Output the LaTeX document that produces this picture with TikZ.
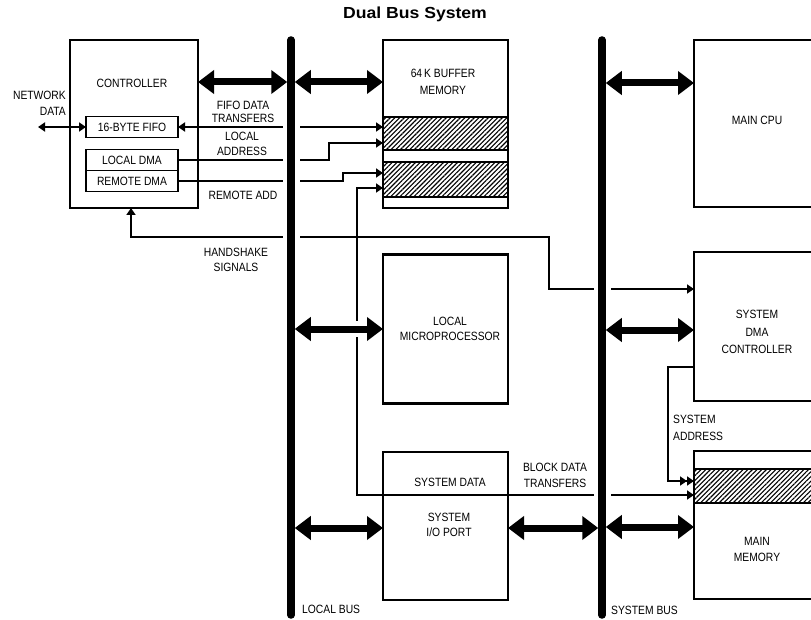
\documentclass[tikz,border=0pt]{standalone}
\usepackage{fontspec}
\setmainfont{Liberation Sans}[FakeStretch=0.86]
\newfontfamily\titlefont{Liberation Sans}[FakeStretch=1.1]
\usepackage{tikz}
\usetikzlibrary{arrows.meta,positioning,calc,backgrounds,patterns.meta}
\tikzset{
  blk/.style    ={draw,line width=2.2pt,inner sep=0pt,outer sep=0pt},
  sub/.style    ={draw,line width=1.8pt,inner sep=0pt,outer sep=0pt,minimum width=92pt,minimum height=21pt,font=\fontsize{12}{13}\selectfont},
  lbl/.style    ={align=center,inner sep=0pt,font=\fontsize{12}{15.5}\selectfont},
  busline/.style={line width=7.5pt,line cap=round},
  busgap/.style ={white,line width=17pt},
  wide/.style   ={line width=7pt,{Triangle[length=16pt,width=23pt]}-{Triangle[length=16pt,width=23pt]}},
  sigline/.style={line width=1.8pt},
  tip/.style    ={-{Triangle[length=7pt,width=9pt]}},
  both/.style   ={{Triangle[length=7pt,width=9pt]}-{Triangle[length=7pt,width=9pt]}},
  dbl/.style    ={-{Triangle[length=7pt,width=9pt] Triangle[length=7pt,width=9pt]}},
  hatch/.style  ={draw,line width=2pt,pattern={Lines[angle=45,distance=3.3pt,line width=1.1pt]}},
}

\begin{document}
\begin{tikzpicture}[x=1pt,y=-1pt]
  \useasboundingbox (0,0) rectangle (811,620);
  \node[font=\titlefont\fontsize{16}{18}\selectfont\bfseries] (title) at (415,14) {Dual Bus System};

  % blocks
  \node[blk,minimum width=128pt,minimum height=168pt] (ctrl) at (134,124) {};
  \node[sub] (fifo) at (132,127) {16-BYTE FIFO};
  \node[sub] (ldma) at (132,160) {LOCAL DMA};
  \node[sub,below=0pt of ldma] (rdma) {REMOTE DMA};
  \node[blk,minimum width=125pt,minimum height=168pt] (buf) at (445.5,124) {};
  \node[blk,minimum width=125pt,minimum height=149pt] (mp) at (445.5,329) {};
  \node[blk,minimum width=125pt,minimum height=148pt] (iop) at (445.5,526) {};
  \node[blk,minimum width=136pt,minimum height=167pt] (cpu) at (762,123.5) {};
  \node[blk,minimum width=136pt,minimum height=149pt] (sdma) at (762,326.5) {};
  \node[blk,minimum width=136pt,minimum height=148pt] (mem) at (762,525) {};
  \draw[hatch] (buf.west |- 0,117) rectangle (buf.east |- 0,150);
  \draw[hatch] (buf.west |- 0,162) rectangle (buf.east |- 0,197);
  \draw[hatch] (mem.west |- 0,469) rectangle (mem.east |- 0,503);

  % texts
  \node[lbl] (ctrltxt) at (132,83) {CONTROLLER};
  \node[lbl,anchor=east,align=right] (nettxt) at (66,103.5) {NETWORK\\DATA};
  \node[lbl,font=\fontsize{12}{13}\selectfont] (fifotxt) at (243,112) {FIFO DATA\\TRANSFERS};
  \node[lbl] (latxt) at (242,144) {LOCAL\\ADDRESS};
  \node[lbl] (ratxt) at (243,195) {REMOTE ADD};
  \node[lbl] (hstxt) at (236,260) {HANDSHAKE\\SIGNALS};
  \node[lbl,font=\fontsize{12}{17.5}\selectfont] (buftxt) at (443,82) {64\,K BUFFER\\MEMORY};
  \node[lbl] (mptxt) at (450,329) {LOCAL\\MICROPROCESSOR};
  \node[lbl] (sdtxt) at (450,482) {SYSTEM DATA};
  \node[lbl] (ioptxt) at (449,525) {SYSTEM\\I/O PORT};
  \node[lbl] (bdtxt) at (555,475.5) {BLOCK DATA\\TRANSFERS};
  \node[lbl] (cputxt) at (757,120) {MAIN CPU};
  \node[lbl,font=\fontsize{12}{17.5}\selectfont] (sdmatxt) at (757,332) {SYSTEM\\DMA\\CONTROLLER};
  \node[lbl,anchor=west,align=left,font=\fontsize{12}{17}\selectfont] (satxt) at (673,427.5) {SYSTEM\\ADDRESS};
  \node[lbl] (memtxt) at (757,549.5) {MAIN\\MEMORY};
  \node[lbl,anchor=west] (lbtxt) at (302,609) {LOCAL BUS};
  \node[lbl,anchor=west] (sbtxt) at (611,610) {SYSTEM BUS};

  % buses
  \coordinate (lbt) at (291,40);  \coordinate (lbb) at (291,615);
  \coordinate (sbt) at (602,40);  \coordinate (sbb) at (602,615);
  \coordinate (lbL) at (287.25,0); \coordinate (lbR) at (294.75,0);
  \coordinate (sbL) at (598.25,0); \coordinate (sbR) at (605.75,0);
  \draw[busline] (lbt) -- (lbb);
  \draw[busline] (sbt) -- (sbb);

  % signal lines, cut where they pass the buses
  \coordinate (net) at (38,127);
  \coordinate (la) at (329,143);  \coordinate (ra) at (343,173);
  \coordinate (sd) at (357,188);  \coordinate (bd) at (357,495);
  \coordinate (hs0) at (131,237); \coordinate (hs1) at (549,237); \coordinate (hs2) at (549,289);
  \coordinate (sa) at (668,367);  \coordinate (sa2) at (668,481);
  \begin{scope}[on background layer]
    \draw[sigline,both] (net) -- (fifo.west);
    \draw[sigline,both] (fifo.east) -- (fifo.east -| buf.west);
    \draw[sigline,tip] (ldma.east) -- (ldma.east -| la) -- (la) -- (la -| buf.west);
    \draw[sigline,tip] (rdma.east) -- (rdma.east -| ra) -- (ra) -- (ra -| buf.west);
    \draw[sigline,both] (sd -| buf.west) -- (sd) -- (bd) -- (bd -| mem.west);
    \draw[sigline,both] (ctrl.south -| hs0) -- (hs0) -- (hs1) -- (hs2) -- (hs2 -| sdma.west);
    \draw[sigline,dbl] (sa -| sdma.west) -- (sa) -- (sa2) -- (sa2 -| mem.west);
    \draw[busgap] (lbt) -- (lbb);
    \draw[busgap] (sbt) -- (sbb);
    \draw[white,line width=16pt] (lbR |- mp.west) -- (mp.west);
  \end{scope}

  % bus transfers
  \draw[wide] (ctrl.east |- 0,82) -- (lbL |- 0,82);
  \draw[wide] (lbR |- 0,82) -- (buf.west |- 0,82);
  \draw[wide] (lbR |- mp.west) -- (mp.west);
  \draw[wide] (lbR |- 0,528) -- (iop.west |- 0,528);
  \draw[wide] (iop.east |- 0,528) -- (sbL |- 0,528);
  \draw[wide] (sbR |- 0,83) -- (cpu.west |- 0,83);
  \draw[wide] (sbR |- 0,330) -- (sdma.west |- 0,330);
  \draw[wide] (sbR |- 0,527) -- (mem.west |- 0,527);
\end{tikzpicture}
\end{document}
